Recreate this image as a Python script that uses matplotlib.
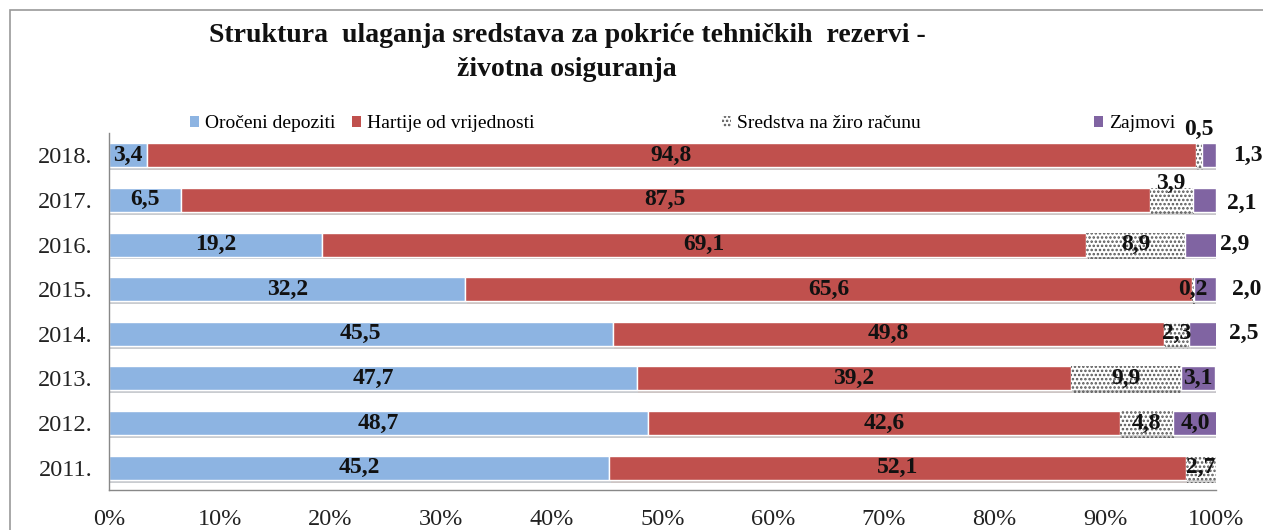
import matplotlib.pyplot as plt
import numpy as np
from matplotlib.patches import Rectangle, Patch
import matplotlib.patheffects as pe

plt.rcParams['font.family'] = ['Liberation Serif', 'DejaVu Serif']
plt.rcParams['hatch.linewidth'] = 1.2

# data (shares in %), bottom to top
years = ['2011.', '2012.', '2013.', '2014.', '2015.', '2016.', '2017.', '2018.']
oroceni = [45.2, 48.7, 47.7, 45.5, 32.2, 19.2, 6.5, 3.4]
hartije = [52.1, 42.6, 39.2, 49.8, 65.6, 69.1, 87.5, 94.8]
ziro = [2.7, 4.8, 9.9, 2.3, 0.2, 8.9, 3.9, 0.5]
zajmovi = [0.0, 4.0, 3.1, 2.5, 2.0, 2.9, 2.1, 1.3]

series_names = ['Oročeni depoziti', 'Hartije od vrijednosti',
                'Sredstva na žiro računu', 'Zajmovi']
colors = ['#8DB4E2', '#C0504D', 'white', '#8064A2']
HATCH = '....'

fig = plt.figure(figsize=(12.63, 5.30), dpi=100)
ax = fig.add_axes([109 / 1263, 1 - 490 / 530, 1107 / 1263, 357 / 530])

y = np.arange(len(years))
shadow = [pe.SimplePatchShadow(offset=(1, -2), alpha=0.25), pe.Normal()]

left = np.zeros(len(years))
for name, vals, col in zip(series_names, [oroceni, hartije, ziro, zajmovi], colors):
    vals = np.array(vals)
    if col == 'white':
        bars = ax.barh(y, vals, left=left, height=0.54, color='white',
                       edgecolor='#555555', linewidth=0, hatch=HATCH)
    else:
        bars = ax.barh(y, vals, left=left, height=0.54, color=col,
                       edgecolor='white', linewidth=1)
    for b in bars:
        b.set_path_effects(shadow)
    left += vals

# data labels
def fmt(v):
    return f'{v:.1f}'.replace('.', ',')

lab_kw = dict(fontsize=17, fontweight='bold', color='#111111', va='center')
# outside placements: (series index, year index) -> (x, y offset)
outside = {
    (2, 7): (None, -0.57),
    (2, 6): (None, -0.36),
    (3, 7): (102.9, 0.0),
    (3, 6): (102.3, 0.08),
    (3, 5): (101.7, 0.0),
    (3, 4): (102.8, 0.0),
    (3, 3): (102.5, 0.0),
}
all_vals = [oroceni, hartije, ziro, zajmovi]
for i in range(len(years)):
    start = 0.0
    for s, vals in enumerate(all_vals):
        v = vals[i]
        if v > 0:
            cx = start + v / 2
            cy = y[i]
            if (s, i) in outside:
                ox, oy = outside[(s, i)]
                if ox is not None:
                    cx = ox
                cy = y[i] - oy
            ax.text(cx, cy, fmt(v), ha='center', clip_on=False, **lab_kw)
        start += v

ax.set_xlim(0, 100)
ax.set_ylim(-0.5, len(years) - 0.5)
ax.set_yticks(y)
ax.set_yticklabels(years, fontsize=17.5, color='#222222')
ax.set_xticks(np.arange(0, 101, 10))
ax.set_xticklabels([f'{t}%' for t in range(0, 101, 10)], fontsize=17.5, color='#222222')
ax.tick_params(length=0)
ax.tick_params(axis='y', pad=12)
ax.tick_params(axis='x', pad=14)
for sp in ['top', 'right']:
    ax.spines[sp].set_visible(False)
for sp in ['left', 'bottom']:
    ax.spines[sp].set_color('#888888')
    ax.spines[sp].set_linewidth(1)

# title
fig.text(0.449, 1 - 36 / 530, 'Struktura  ulaganja sredstava za pokriće tehničkih  rezervi -',
         ha='center', va='center', fontsize=20, fontweight='bold', color='#111111')
fig.text(0.449, 1 - 69 / 530, 'životna osiguranja',
         ha='center', va='center', fontsize=20, fontweight='bold', color='#111111')

# legend entries placed individually
leg_x = [190 / 1263, 352 / 1263, 722 / 1263, 1094 / 1263]
for name, col, lx in zip(series_names, colors, leg_x):
    if col == 'white':
        h = Patch(facecolor='white', edgecolor='#555555', hatch=HATCH, linewidth=0)
    else:
        h = Patch(facecolor=col, edgecolor='none')
    fig.legend([h], [name], loc='center left', bbox_to_anchor=(lx, 1 - 124 / 530),
               frameon=False, fontsize=14, handlelength=0.45, handleheight=0.45,
               handletextpad=0.3, borderaxespad=0, borderpad=0)

# chart frame
fig.patches.append(Rectangle((10 / 1263, -0.01), 1.2, 1 - 10 / 530 + 0.01,
                             transform=fig.transFigure, fill=False,
                             edgecolor='#999999', linewidth=1.2))

fig.savefig('out.png', dpi=100)
